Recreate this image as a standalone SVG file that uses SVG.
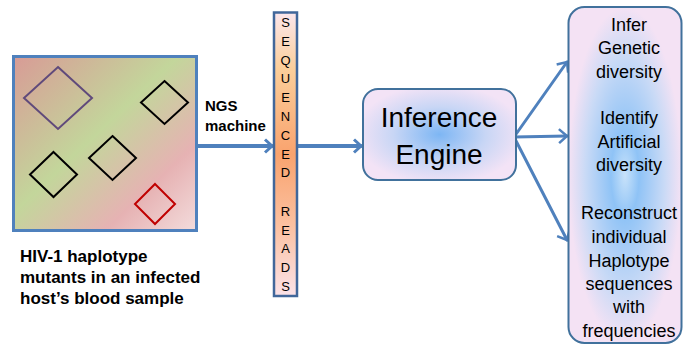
<svg xmlns="http://www.w3.org/2000/svg" width="683" height="347" viewBox="0 0 683 347">
  <style>
    .lbl { font-family: "Liberation Sans", Arial, sans-serif; fill: #000; }
    .bold { font-weight: bold; }
    .conn { stroke: #4f81bd; fill: none; stroke-linecap: round; }
    .main { stroke-width: 4; }
    .fan { stroke-width: 3; }
    .dia { fill: none; stroke-width: 2; }
  </style>
  <defs>
    <linearGradient id="sampleFill" x1="0" y1="0" x2="1" y2="1">
      <stop offset="0" stop-color="#d89b96"/>
      <stop offset="0.45" stop-color="#c3d69b"/>
      <stop offset="0.75" stop-color="#e6b2b3"/>
      <stop offset="1" stop-color="#f3dcdc"/>
    </linearGradient>
    <linearGradient id="readsFill" x1="0" y1="0" x2="0" y2="1">
      <stop offset="0" stop-color="#fbe6ec"/>
      <stop offset="0.2" stop-color="#fbce9a"/>
      <stop offset="0.5" stop-color="#f9a36e"/>
      <stop offset="0.75" stop-color="#fbc0a0"/>
      <stop offset="1" stop-color="#fbe2e8"/>
    </linearGradient>
    <radialGradient id="engineFill" cx="0.5" cy="0.5" r="0.55">
      <stop offset="0" stop-color="#7db6f4"/>
      <stop offset="0.55" stop-color="#c8d6f5"/>
      <stop offset="1" stop-color="#f3e3f6"/>
    </radialGradient>
    <radialGradient id="outFill" cx="0.5" cy="0.5" r="0.5">
      <stop offset="0" stop-color="#c8e2fa"/>
      <stop offset="0.25" stop-color="#8fc3f6"/>
      <stop offset="0.7" stop-color="#c9daf6"/>
      <stop offset="1" stop-color="#f4e2f4"/>
    </radialGradient>
    <marker id="headMain" markerUnits="userSpaceOnUse" markerWidth="14" markerHeight="18" refX="10" refY="9" orient="auto">
      <path d="M3,2.5 L10,9 L3,15.5" fill="none" stroke="#4f81bd" stroke-width="3"/>
    </marker>
    <marker id="headFan" markerUnits="userSpaceOnUse" markerWidth="14" markerHeight="18" refX="10" refY="9" orient="auto">
      <path d="M2,2 L10,9 L2,16" fill="none" stroke="#4f81bd" stroke-width="2.5"/>
    </marker>
  </defs>

  <!-- connectors -->
  <g id="connectors">
    <line class="conn main" x1="198" y1="146" x2="272" y2="146" marker-end="url(#headMain)"/>
    <line class="conn main" x1="298" y1="146" x2="361" y2="146" marker-end="url(#headMain)"/>
    <line class="conn fan" x1="514" y1="137" x2="567" y2="62" marker-end="url(#headFan)"/>
    <line class="conn fan" x1="514" y1="137" x2="567" y2="136" marker-end="url(#headFan)"/>
    <line class="conn fan" x1="514" y1="137" x2="567" y2="240" marker-end="url(#headFan)"/>
  </g>

  <!-- blood sample with haplotype variants -->
  <g id="sample">
    <rect x="13.5" y="56.5" width="183" height="174" fill="url(#sampleFill)" stroke="#4f81bd" stroke-width="3"/>
    <polygon class="dia" points="58,67 92,98 58,129 24,98" stroke="#604a7b"/>
    <polygon class="dia" points="164.5,81 188,102.5 164.5,124 141,102.5" stroke="#000"/>
    <polygon class="dia" points="112.5,136 136,158 112.5,180 89,158" stroke="#000"/>
    <polygon class="dia" points="53.5,152 77,174.5 53.5,197 30,174.5" stroke="#000"/>
    <polygon class="dia" points="155,184 175,204 155,224 135,204" stroke="#c00000"/>
  </g>

  <g id="sample-caption">
    <text class="lbl bold" font-size="17" x="20" y="262">HIV-1 haplotype</text>
    <text class="lbl bold" font-size="17" x="20" y="283">mutants in an infected</text>
    <text class="lbl bold" font-size="17" x="20" y="304">host’s blood sample</text>
  </g>

  <g id="ngs-label">
    <text class="lbl bold" font-size="15" x="205" y="111">NGS</text>
    <text class="lbl bold" font-size="15" x="205" y="131">machine</text>
  </g>

  <!-- sequenced reads column -->
  <g id="reads">
    <rect x="274" y="12.5" width="23" height="283.5" fill="url(#readsFill)" stroke="#41679a" stroke-width="2.5"/>
    <g class="lbl" font-size="13" text-anchor="middle">
      <text x="285.5" y="27">S</text>
      <text x="285.5" y="46">E</text>
      <text x="285.5" y="65">Q</text>
      <text x="285.5" y="83">U</text>
      <text x="285.5" y="102">E</text>
      <text x="285.5" y="121">N</text>
      <text x="285.5" y="139.5">C</text>
      <text x="285.5" y="159">E</text>
      <text x="285.5" y="177">D</text>
      <text x="285.5" y="216">R</text>
      <text x="285.5" y="234.5">E</text>
      <text x="285.5" y="253">A</text>
      <text x="285.5" y="271.5">D</text>
      <text x="285.5" y="291">S</text>
    </g>
  </g>

  <!-- inference engine -->
  <g id="engine">
    <rect x="363" y="89" width="153" height="91" rx="15" ry="15" fill="url(#engineFill)" stroke="#41719c" stroke-width="2"/>
    <text class="lbl" font-size="28" text-anchor="middle" x="439" y="127">Inference</text>
    <text class="lbl" font-size="28" text-anchor="middle" x="439" y="164">Engine</text>
  </g>

  <!-- outputs -->
  <g id="outputs">
    <rect x="568.5" y="7" width="113" height="336" rx="16" ry="16" fill="url(#outFill)" stroke="#41719c" stroke-width="2"/>
    <g class="lbl" font-size="18" text-anchor="middle">
      <text x="629" y="31">Infer</text>
      <text x="629" y="54">Genetic</text>
      <text x="629" y="78">diversity</text>
      <text x="629" y="124">Identify</text>
      <text x="629" y="148">Artificial</text>
      <text x="629" y="171">diversity</text>
      <text x="629" y="219">Reconstruct</text>
      <text x="629" y="243">individual</text>
      <text x="629" y="267">Haplotype</text>
      <text x="629" y="290">sequences</text>
      <text x="629" y="313">with</text>
      <text x="629" y="337">frequencies</text>
    </g>
  </g>
</svg>
